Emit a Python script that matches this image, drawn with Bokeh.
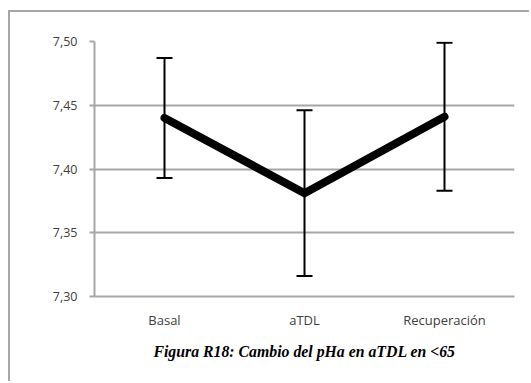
from bokeh.plotting import figure
from bokeh.models import Range1d, FactorRange, ColumnDataSource, Whisker, TeeHead
from bokeh.embed import file_html
from bokeh.resources import INLINE

# Arterial pH (pHa) at three stages, patients under 65
categories = ["Basal", "aTDL", "Recuperación"]
ph_mean = [7.440, 7.381, 7.441]
ph_err = [0.047, 0.065, 0.058]
y_ticks = [7.30, 7.35, 7.40, 7.45, 7.50]
y_tick_labels = {7.30: "7,30", 7.35: "7,35", 7.40: "7,40", 7.45: "7,45", 7.50: "7,50"}

upper = [m + e for m, e in zip(ph_mean, ph_err)]
lower = [m - e for m, e in zip(ph_mean, ph_err)]
src = ColumnDataSource(dict(cat=categories, mean=ph_mean, upper=upper, lower=lower))

grey = "#a6a6a6"

p = figure(
    width=521, height=371,
    x_range=FactorRange(*categories, range_padding=0),
    y_range=Range1d(7.30, 7.50),
    output_backend="svg", toolbar_location=None,
    min_border_left=84, min_border_right=17,
    min_border_top=29, min_border_bottom=87,
)
# chart-area frame (left and top edges fall inside the page)
p.margin = (10, 0, 0, 8)
p.styles = {"border-left": f"2px solid {grey}", "border-top": f"2px solid {grey}"}
p.outline_line_color = None
p.background_fill_color = "white"
p.border_fill_color = "white"

# y axis
p.yaxis.ticker = y_ticks
p.yaxis.major_label_overrides = y_tick_labels
p.yaxis.axis_line_color = grey
p.yaxis.axis_line_width = 2
p.yaxis.major_tick_line_color = grey
p.yaxis.major_tick_line_width = 2
p.yaxis.major_tick_in = 0
p.yaxis.major_tick_out = 5
p.yaxis.minor_tick_line_color = None
p.yaxis.major_label_standoff = 12
p.yaxis.major_label_text_font = "Open Sans"
p.yaxis.major_label_text_font_size = "12.5px"
p.yaxis.major_label_text_color = "#404040"

# x axis, with the figure caption as its label
p.xaxis.axis_line_color = grey
p.xaxis.axis_line_width = 2
p.xaxis.major_tick_line_color = None
p.xaxis.minor_tick_line_color = None
p.xaxis.major_label_standoff = 8
p.xaxis.major_label_text_font = "Open Sans"
p.xaxis.major_label_text_font_size = "13px"
p.xaxis.major_label_text_color = "#404040"
p.xaxis.axis_label = "Figura R18: Cambio del pHa en aTDL en <65"
p.xaxis.axis_label_text_font = "Liberation Serif"
p.xaxis.axis_label_text_font_style = "bold italic"
p.xaxis.axis_label_text_font_size = "15.8px"
p.xaxis.axis_label_text_color = "black"
p.xaxis.axis_label_standoff = 11

p.xgrid.grid_line_color = None
p.ygrid.grid_line_color = grey
p.ygrid.grid_line_width = 2

# error bars
p.add_layout(Whisker(source=src, base="cat", upper="upper", lower="lower",
                     line_color="black", line_width=2,
                     upper_head=TeeHead(size=16, line_color="black", line_width=2),
                     lower_head=TeeHead(size=16, line_color="black", line_width=2)))

# mean line
p.line(x="cat", y="mean", source=src, line_color="black", line_width=8,
       line_cap="round", line_join="miter")

open("out.html", "w").write(file_html(p, INLINE))
